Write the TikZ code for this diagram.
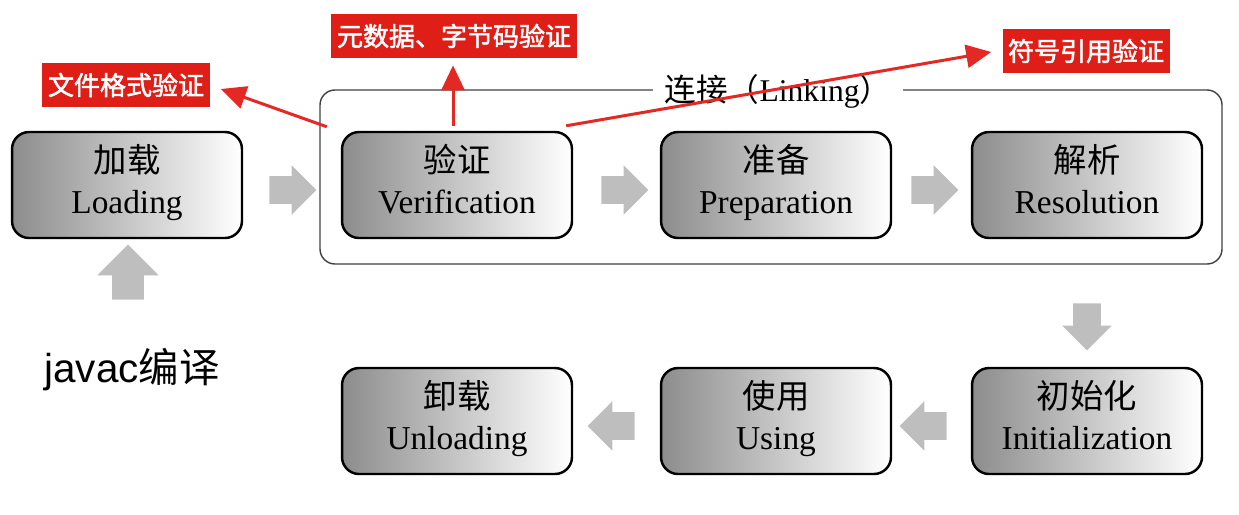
\documentclass[tikz,border=0pt]{standalone}
\usepackage{fontspec}
\setmainfont{Liberation Serif}
\setsansfont{Liberation Sans}
\newfontfamily\cjk{Noto Sans CJK SC}
\newfontfamily\cjkbold[FakeBold=2]{Noto Sans CJK SC}
\usetikzlibrary{shapes.arrows, arrows.meta, calc}

\definecolor{tagred}{RGB}{224,30,24}
\definecolor{penred}{RGB}{228,40,36}
\definecolor{arrowgray}{RGB}{190,190,190}

% two lines of a stage: chinese name over english name
\newcommand{\stagename}[2]{{\cjk\strut #1}\\\strut #2}

\tikzset{
  stage/.style={draw=black, line width=1.4pt, rounded corners=0.34cm,
    left color=black!45, right color=white, minimum width=4.6cm,
    minimum height=2.12cm, align=center, inner sep=0pt,
    font=\fontsize{19}{23}\selectfont},
  flow/.style={single arrow, fill=arrowgray, draw=none, inner sep=0.27cm,
    single arrow head extend=0.22cm, minimum height=0.94cm},
  tag/.style={fill=tagred, text=white, inner xsep=0.11cm, minimum height=0.88cm,
    font=\cjkbold\fontsize{14.8}{16}\selectfont},
  pen/.style={draw=penred, line width=1.7pt, -{Triangle[length=0.5cm,width=0.46cm]}},
}

\begin{document}
\begin{tikzpicture}[x=0.02cm, y=-0.02cm]
  \useasboundingbox (0,0) rectangle (1239,514);

  % linking frame
  \draw[black!75, line width=0.8pt, rounded corners=0.3cm] (320,90) rectangle (1222,264);
  \node[fill=white, inner xsep=0.24cm, inner ysep=1pt, font=\fontsize{18}{20}\selectfont]
    (linktitle) at (778,91) {{\cjk 连接（}Linking{\cjk ）}};

  % stages
  \node[stage] (load) at (127,185) {\stagename{加载}{Loading}};
  \node[stage] (verif) at (457,185) {\stagename{验证}{Verification}};
  \node[stage] (prep) at (776,185) {\stagename{准备}{Preparation}};
  \node[stage] (resol) at (1087,185) {\stagename{解析}{Resolution}};
  \node[stage] (init) at (1087,421) {\stagename{初始化}{Initialization}};
  \node[stage] (use) at (776,421) {\stagename{使用}{Using}};
  \node[stage] (unload) at (457,421) {\stagename{卸载}{Unloading}};

  % gray flow arrows
  \node[flow] (f1) at (286,190) {};
  \node[flow] (f2) at (618,190) {};
  \node[flow] (f3) at (928,190) {};
  \node[flow, shape border rotate=270] (f4) at (1087,320) {};
  \node[flow, shape border rotate=180] (f5) at (930,426) {};
  \node[flow, shape border rotate=180] (f6) at (618,426) {};
  \node[flow, shape border rotate=90, inner sep=0.31cm,
    single arrow head extend=0.3cm, minimum height=1.1cm] (f7) at (128,280) {};

  \node[font=\sffamily\fontsize{23}{26}\selectfont] (javac) at (132,370) {javac{\cjk 编译}};

  % red notes
  \node[tag] (fmt) at (126,85) {文件格式验证};
  \node[tag] (meta) at (454,36) {元数据、字节码验证};
  \node[tag] (sym) at (1086,51) {符号引用验证};

  \draw[pen] ([shift={(-14,-4)}]verif.north west) -- ([shift={(11,4)}]fmt.east);
  \draw[pen] ([shift={(-4,-5)}]verif.north) -- ([shift={(-1,7)}]meta.south);
  \draw[pen] ([shift={(-7,-5)}]verif.north east) -- ([shift={(-11,1)}]sym.west);
\end{tikzpicture}
\end{document}
